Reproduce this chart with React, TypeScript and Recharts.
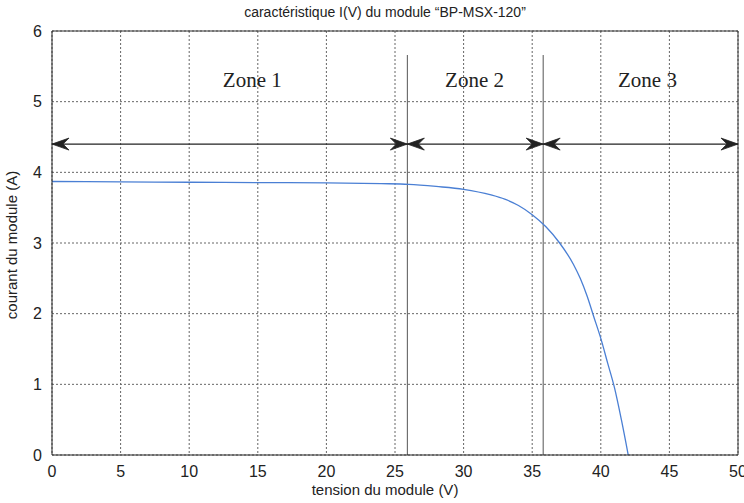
import React from 'react';
import {
  LineChart,
  Line,
  XAxis,
  YAxis,
  CartesianGrid,
  ReferenceLine,
  ReferenceDot
} from 'recharts';

// I(V) curve
const VOLTAGE = [0, 5, 10, 15, 20, 24, 26, 28, 30, 32, 33, 34, 35, 36, 37, 38, 38.5, 39, 39.5, 40, 40.5, 41, 41.5, 42];
const CURRENT = [3.87, 3.865, 3.86, 3.855, 3.85, 3.84, 3.83, 3.8, 3.76, 3.68, 3.62, 3.53, 3.4, 3.23, 3.0, 2.7, 2.5, 2.25, 1.95, 1.65, 1.3, 0.95, 0.5, 0];

const X_TICKS = [0, 5, 10, 15, 20, 25, 30, 35, 40, 45, 50];
const Y_TICKS = [0, 1, 2, 3, 4, 5, 6];

// zones
const ZONE_NAMES = ['Zone 1', 'Zone 2', 'Zone 3'];
const ZONE_LABEL_X = [14.6, 30.8, 43.4];
const ZONE_LABEL_Y = 5.3;
const ZONE_BOUNDS = [25.9, 35.8];
const ZONE_LINE_TOP = 5.66;
const ARROW_Y = 4.4;
const ARROW_START = [0, 25.9, 35.8];
const ARROW_END = [25.9, 35.8, 50];

const data = VOLTAGE.map((v, i) => ({ v, i: CURRENT[i] }));

const FONT = '"Liberation Sans", Arial, sans-serif';

const Arrowhead = ({ cx, cy, dir }: { cx: number; cy: number; dir: 1 | -1 }) => {
  const len = 17;
  const half = 6;
  const notch = 11;
  const d = `M${cx},${cy} L${cx - dir * len},${cy - half} L${cx - dir * notch},${cy} L${cx - dir * len},${cy + half} Z`;
  return <path d={d} fill="#222" stroke="#222" strokeWidth={0.8} />;
};

export default function App() {
  return (
    <div style={{ position: 'absolute', left: 0, top: 0, width: 744, height: 503, background: '#fff', fontFamily: FONT }}>
      <div style={{ position: 'absolute', left: 0, width: 744, top: 4, textAlign: 'center', fontSize: 14, color: '#222', paddingLeft: 26, boxSizing: 'border-box' }}>
        caractéristique I(V) du module “BP-MSX-120”
      </div>
      <div style={{ position: 'absolute', left: 0, width: 744, top: 481, textAlign: 'center', fontSize: 15, color: '#222', paddingLeft: 26, boxSizing: 'border-box' }}>
        tension du module (V)
      </div>
      <div
        style={{
          position: 'absolute',
          left: 11,
          top: 245,
          fontSize: 15,
          color: '#222',
          whiteSpace: 'nowrap',
          transform: 'translate(-50%, -50%) rotate(-90deg)'
        }}
      >
        courant du module (A)
      </div>
      <LineChart
        width={744}
        height={503}
        data={data}
        margin={{ top: 31, right: 6, left: 0, bottom: 18 }}
        style={{ position: 'absolute', left: 0, top: 0 }}
      >
        <CartesianGrid stroke="#666" strokeDasharray="2 2" />
        <XAxis
          dataKey="v"
          type="number"
          domain={[0, 50]}
          ticks={X_TICKS}
          interval={0}
          height={30}
          tickLine={false}
          tickMargin={5}
          axisLine={{ stroke: '#222' }}
          tick={{ fill: '#222', fontSize: 16, fontFamily: FONT }}
          allowDataOverflow
        />
        <YAxis
          type="number"
          domain={[0, 6]}
          ticks={Y_TICKS}
          interval={0}
          width={52}
          tickLine={false}
          tickMargin={4}
          axisLine={{ stroke: '#222' }}
          tick={{ fill: '#222', fontSize: 16, fontFamily: FONT }}
        />
        <ReferenceLine y={6} stroke="#333" />
        <ReferenceLine x={50} stroke="#333" />
        {ZONE_BOUNDS.map((b) => (
          <ReferenceLine
            key={`zb-${b}`}
            segment={[{ x: b, y: 0 }, { x: b, y: ZONE_LINE_TOP }]}
            stroke="#555"
            strokeWidth={1}
          />
        ))}
        <ReferenceLine
          segment={[{ x: 0, y: ARROW_Y }, { x: 50, y: ARROW_Y }]}
          stroke="#222"
          strokeWidth={1.2}
        />
        {ARROW_START.map((s, k) => (
          <ReferenceDot
            key={`as-${k}`}
            x={s}
            y={ARROW_Y}
            r={1}
            shape={(p: any) => <Arrowhead cx={p.cx} cy={p.cy} dir={-1} />}
          />
        ))}
        {ARROW_END.map((e, k) => (
          <ReferenceDot
            key={`ae-${k}`}
            x={e}
            y={ARROW_Y}
            r={1}
            shape={(p: any) => <Arrowhead cx={p.cx} cy={p.cy} dir={1} />}
          />
        ))}
        {ZONE_NAMES.map((name, k) => (
          <ReferenceDot
            key={`zl-${k}`}
            x={ZONE_LABEL_X[k]}
            y={ZONE_LABEL_Y}
            r={1}
            shape={(p: any) => (
              <text
                x={p.cx}
                y={p.cy}
                textAnchor="middle"
                dominantBaseline="central"
                fontFamily='"Liberation Serif", "Times New Roman", serif'
                fontSize={21}
                fill="#222"
              >
                {name}
              </text>
            )}
          />
        ))}
        <Line
          dataKey="i"
          type="monotone"
          stroke="#4a7fd4"
          strokeWidth={1.3}
          dot={false}
          isAnimationActive={false}
        />
      </LineChart>
    </div>
  );
}
